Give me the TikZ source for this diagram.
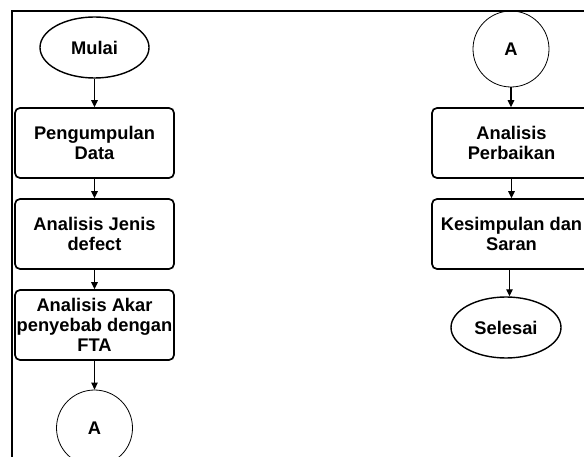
\documentclass[tikz,border=0pt]{standalone}
\usepackage{fontspec}
\setmainfont{Liberation Sans}
\usetikzlibrary{shapes.geometric,arrows.meta}
\begin{document}
\begin{tikzpicture}[x=1pt,y=-1pt,
  every node/.style={font=\fontsize{18.3}{20}\selectfont\bfseries, align=center, inner sep=0pt},
  procbox/.style={draw, line width=1.7pt, rounded corners=5pt,
                  minimum width=159pt, minimum height=70pt},
  term/.style={draw, ellipse, line width=1.4pt, minimum width=109pt, minimum height=61pt},
  conn/.style={draw, circle, line width=0.8pt, minimum size=76pt},
  flow/.style={-{Triangle[length=7pt,width=6.5pt]}, line width=1.3pt}]
\clip (0,0) rectangle (584,457);
% page frame
\draw[line width=2.5pt] (12,470) -- (12,11) -- (600,11);

% left column
\node[term]    (mulai) at (94.5,47.5) {Mulai};
\node[procbox] (data)  at (94.5,143)  {Pengumpulan\\Data};
\node[procbox] (jenis) at (94.5,234)  {Analisis Jenis\\defect};
\node[procbox] (akar)  at (94.5,325)  {Analisis Akar\\penyebab dengan\\FTA};
\node[conn]    (a1)    at (94.5,428)  {A};

% right column
\node[conn]    (a2)      at (511,49)    {A};
\node[procbox] (perbaik) at (511.5,143) {Analisis\\Perbaikan};
\node[procbox] (simpul)  at (511.5,234) {Kesimpulan dan\\Saran};
\node[term, minimum width=110pt] (selesai) at (506,327.5) {Selesai};

\draw[flow] (mulai) -- (data);
\draw[flow] (data) -- (jenis);
\draw[flow] (jenis) -- (akar);
\draw[flow] (akar) -- (a1);
\draw[flow] (a2) -- (a2 |- perbaik.north);
\draw[flow] (perbaik) -- (simpul);
\draw[flow] ([xshift=-2pt]simpul.south) -- ([xshift=-2pt]simpul.south |- selesai.north);
\end{tikzpicture}
\end{document}
